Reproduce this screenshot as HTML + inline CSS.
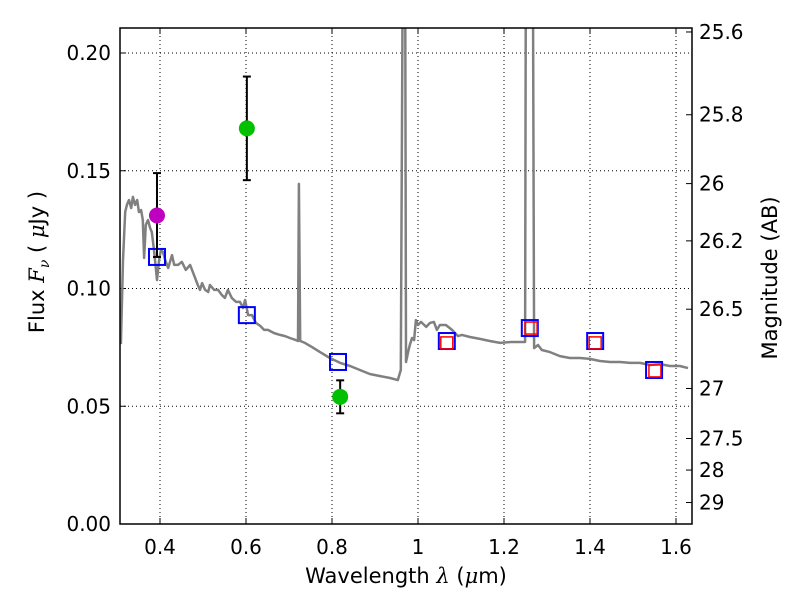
<!DOCTYPE html>
<html><head><meta charset="utf-8"><style>
body{margin:0;background:#fff}
svg{display:block;font-family:"DejaVu Sans","Liberation Sans",sans-serif}
</style></head><body>
<svg id="c" width="800" height="600" xmlns="http://www.w3.org/2000/svg"></svg>
<script>
const specLam=[0.309,0.314,0.319,0.323,0.328,0.333,0.337,0.342,0.347,0.351,0.356,0.360,0.363,0.367,0.372,0.377,0.381,0.386,0.393,0.398,0.402,0.407,0.412,0.419,0.428,0.433,0.442,0.451,0.460,0.470,0.479,0.488,0.493,0.498,0.505,0.512,0.516,0.526,0.535,0.544,0.551,0.558,0.567,0.577,0.586,0.593,0.598,0.605,0.614,0.623,0.633,0.642,0.651,0.665,0.679,0.691,0.702,0.716,0.721,0.723,0.726,0.737,0.753,0.772,0.795,0.819,0.842,0.865,0.888,0.912,0.935,0.953,0.960,0.965,0.970,0.972,0.977,0.981,0.986,0.991,0.995,1.000,1.007,1.019,1.028,1.037,1.044,1.051,1.065,1.079,1.093,1.102,1.121,1.144,1.167,1.191,1.216,1.249,1.251,1.267,1.270,1.279,1.288,1.307,1.330,1.353,1.377,1.400,1.423,1.447,1.470,1.493,1.516,1.540,1.563,1.586,1.609,1.628];
const specFlux=[0.0764,0.1121,0.1325,0.1355,0.1376,0.1342,0.1389,0.1355,0.1376,0.1325,0.1333,0.1291,0.1130,0.1270,0.1291,0.1257,0.1240,0.1163,0.1036,0.1121,0.1163,0.1155,0.1121,0.1087,0.1142,0.1100,0.1100,0.1113,0.1079,0.1100,0.1057,0.1015,0.0994,0.1023,0.0994,0.0985,0.1015,0.0994,0.0994,0.0972,0.0960,0.0994,0.0960,0.0943,0.0943,0.0917,0.0951,0.0887,0.0887,0.0854,0.0841,0.0824,0.0824,0.0811,0.0803,0.0798,0.0790,0.0781,0.0777,0.1444,0.0777,0.0769,0.0752,0.0730,0.0705,0.0684,0.0671,0.0654,0.0637,0.0628,0.0620,0.0611,0.0654,0.25,0.25,0.0688,0.0730,0.0760,0.0790,0.0781,0.0866,0.0845,0.0858,0.0837,0.0854,0.0858,0.0824,0.0845,0.0845,0.0824,0.0798,0.0803,0.0794,0.0786,0.0777,0.0769,0.0773,0.0773,0.25,0.25,0.0747,0.0760,0.0739,0.0730,0.0713,0.0705,0.0705,0.0701,0.0692,0.0688,0.0688,0.0684,0.0684,0.0675,0.0679,0.0671,0.0671,0.0662];
const modelLam=[0.393,0.602,0.814,1.067,1.260,1.412,1.549];
const modelFlux=[0.1134,0.0887,0.0688,0.0777,0.0832,0.0777,0.0654];
const hstLam=[1.067,1.263,1.412,1.551];
const hstFlux=[0.0769,0.0832,0.0769,0.0650];
const obsLam=[0.393,0.602,0.819];
const obsFlux=[0.131,0.168,0.054];
const obsLo=[0.1134,0.146,0.047];
const obsHi=[0.149,0.190,0.061];
const obsColor=['#bf00bf','#00c000','#00c000'];
const xTicks=[0.4,0.6,0.8,1.0,1.2,1.4,1.6];
const xTickLabels=['0.4','0.6','0.8','1','1.2','1.4','1.6'];
const yTicks=[0,0.05,0.10,0.15,0.20];
const yTickLabels=['0.00','0.05','0.10','0.15','0.20'];
const magTicks=[25.6,25.8,26,26.2,26.5,27,27.5,28,29];
const magTickLabels=['25.6','25.8','26','26.2','26.5','27','27.5','28','29'];

const L=120,R=692,T=28,B=524;
const X=v=>160+(v-0.4)*430;
const Y=v=>B-v*2355;
const magY=m=>Y(Math.pow(10,(23.9-m)/2.5));
const svg=document.getElementById('c');
const NS='http://www.w3.org/2000/svg';
function mk(tag,attrs,parent){const e=document.createElementNS(NS,tag);for(const k in attrs)e.setAttribute(k,attrs[k]);(parent||svg).appendChild(e);return e;}
const defs=mk('defs',{});
const cp=mk('clipPath',{id:'pc'},defs);mk('rect',{x:L,y:T,width:R-L,height:B-T},cp);

xTicks.forEach((t,i)=>{
 const g=mk('line',{x1:X(t),x2:X(t),y1:T,y2:B,stroke:'#000','stroke-width':1,'stroke-dasharray':'1,3'});
 
 
 mk('line',{x1:X(t),x2:X(t),y1:B,y2:B-6,stroke:'#000'});
 mk('line',{x1:X(t),x2:X(t),y1:T,y2:T+6,stroke:'#000'});
 const tx=mk('text',{x:X(t),y:554,'text-anchor':'middle','font-size':20});
 tx.textContent=xTickLabels[i];
 
 
});
yTicks.forEach((t,i)=>{
 const g=mk('line',{x1:L,x2:R,y1:Y(t),y2:Y(t),stroke:'#000','stroke-width':1,'stroke-dasharray':'1,3'});
 
 
 mk('line',{x1:L,x2:L+6,y1:Y(t),y2:Y(t),stroke:'#000'});
 const tx=mk('text',{x:111,y:Y(t)+7,'text-anchor':'end','font-size':20});
 tx.textContent=yTickLabels[i];
 
 
});
magTicks.forEach((m,i)=>{
 const y=magY(m);
 mk('line',{x1:R-6,x2:R,y1:y,y2:y,stroke:'#000'});
 const tx=mk('text',{x:699,y:y+7,'text-anchor':'start','font-size':20});
 tx.textContent=magTickLabels[i];
 
 
});

const pts=specLam.map((l,i)=>X(l).toFixed(1)+','+Y(specFlux[i]).toFixed(1)).join(' ');
const sp=mk('polyline',{points:pts,fill:'none',stroke:'#808080','stroke-width':2.5,'clip-path':'url(#pc)','stroke-linejoin':'round'});



modelLam.forEach((l,i)=>{
 const s=mk('rect',{x:X(l)-8,y:Y(modelFlux[i])-8,width:16,height:16,fill:'none',stroke:'#0000ff','stroke-width':2});
 
 
});
hstLam.forEach((l,i)=>{
 const s=mk('rect',{x:X(l)-6,y:Y(hstFlux[i])-6,width:12,height:12,fill:'none',stroke:'#ff0000','stroke-width':1.5});
 
 
});
obsLam.forEach((l,i)=>{
 const x=X(l);
 const e=mk('line',{x1:x,x2:x,y1:Y(obsLo[i]),y2:Y(obsHi[i]),stroke:'#000','stroke-width':2});
 
 
 mk('line',{x1:x-4,x2:x+4,y1:Y(obsLo[i]),y2:Y(obsLo[i]),stroke:'#000','stroke-width':2});
 mk('line',{x1:x-4,x2:x+4,y1:Y(obsHi[i]),y2:Y(obsHi[i]),stroke:'#000','stroke-width':2});
 const c=mk('circle',{cx:x,cy:Y(obsFlux[i]),r:8,fill:obsColor[i]});
 
 
});
const fr=mk('rect',{x:L,y:T,width:R-L,height:B-T,fill:'none',stroke:'#000','stroke-width':1.5});


const xl=mk('text',{x:406,y:583,'text-anchor':'middle','font-size':21});
xl.innerHTML='Wavelength  <tspan font-style="italic" font-family="DejaVu Serif,serif">λ</tspan> (<tspan font-style="italic" font-family="DejaVu Serif,serif">μ</tspan>m)';


const yl=mk('text',{x:0,y:0,'text-anchor':'middle','font-size':21,transform:'translate(44,262) rotate(-90)'});
yl.innerHTML='Flux  <tspan font-style="italic" font-family="DejaVu Serif,serif">F</tspan><tspan font-style="italic" font-size="14" dy="5" font-family="DejaVu Serif,serif">ν</tspan><tspan dy="-5">  ( </tspan><tspan font-style="italic" font-family="DejaVu Serif,serif">μ</tspan>Jy )';


const rl=mk('text',{x:0,y:0,'text-anchor':'middle','font-size':21,transform:'translate(777,278) rotate(-90)'});
rl.textContent='Magnitude (AB)';


</script>
</body></html>
